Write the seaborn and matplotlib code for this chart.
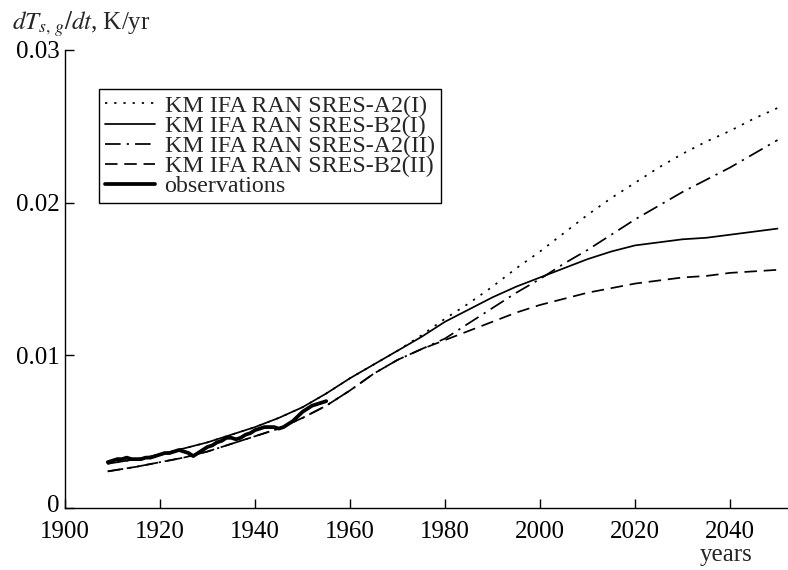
import matplotlib
matplotlib.use("Agg")
import matplotlib.pyplot as plt
import matplotlib.transforms as mtransforms
import seaborn as sns
import pandas as pd

# ---- data ----
model_years = [1909, 1915, 1920, 1925, 1930, 1935, 1940, 1945, 1950, 1955,
               1960, 1965, 1970, 1975, 1980, 1985, 1990, 1995, 2000, 2005,
               2010, 2015, 2020, 2025, 2030, 2035, 2040, 2045, 2050]

b2_I = [0.0029, 0.0032, 0.0035, 0.0039, 0.0043, 0.0048, 0.0053, 0.0059, 0.0066, 0.0075,
        0.0085, 0.0094, 0.0103, 0.0112, 0.0122, 0.0130, 0.0138, 0.0145, 0.0151, 0.0157,
        0.0163, 0.0168, 0.0172, 0.0174, 0.0176, 0.0177, 0.0179, 0.0181, 0.0183]

a2_I = [0.0029, 0.0032, 0.0035, 0.0039, 0.0043, 0.0048, 0.0053, 0.0059, 0.0066, 0.0075,
        0.0085, 0.0094, 0.0103, 0.0113, 0.0124, 0.0134, 0.0145, 0.0157, 0.0168, 0.0180,
        0.0192, 0.0203, 0.0213, 0.0223, 0.0232, 0.0240, 0.0247, 0.0255, 0.0262]

b2_II = [0.0024, 0.0027, 0.0030, 0.0033, 0.0037, 0.0042, 0.0047, 0.0052, 0.0059, 0.0067,
         0.0077, 0.0088, 0.0097, 0.0104, 0.0110, 0.0116, 0.0122, 0.0128, 0.0133, 0.0137,
         0.0141, 0.0144, 0.0147, 0.0149, 0.0151, 0.0152, 0.0154, 0.0155, 0.0156]

a2_II = [0.0024, 0.0027, 0.0030, 0.0033, 0.0037, 0.0042, 0.0047, 0.0052, 0.0059, 0.0067,
         0.0077, 0.0088, 0.0097, 0.0104, 0.0111, 0.0121, 0.0131, 0.0141, 0.0150, 0.0160,
         0.0169, 0.0179, 0.0189, 0.0198, 0.0207, 0.0215, 0.0223, 0.0232, 0.0241]

obs_years = list(range(1909, 1956))
obs_values = [0.0030, 0.0031, 0.0032, 0.0032, 0.0033, 0.0032, 0.0032, 0.0032, 0.0033, 0.0033,
              0.0034, 0.0035, 0.0036, 0.0036, 0.0037, 0.0038, 0.0037, 0.0036, 0.0034, 0.0036,
              0.0038, 0.0040, 0.0041, 0.0043, 0.0044, 0.0046, 0.0046, 0.0045, 0.0046, 0.0048,
              0.0049, 0.0051, 0.0052, 0.0053, 0.0053, 0.0053, 0.0052, 0.0053, 0.0055, 0.0057,
              0.0060, 0.0063, 0.0065, 0.0067, 0.0068, 0.0069, 0.0070]

series_labels = ["KM IFA RAN SRES-A2(I)", "KM IFA RAN SRES-B2(I)",
                 "KM IFA RAN SRES-A2(II)", "KM IFA RAN SRES-B2(II)", "observations"]

x_ticks = [1900, 1920, 1940, 1960, 1980, 2000, 2020, 2040]
x_tick_labels = ["1900", "1920", "1940", "1960", "1980", "2000", "2020", "2040"]
y_ticks = [0.0, 0.01, 0.02, 0.03]
y_tick_labels = ["0", "0.01", "0.02", "0.03"]

# ---- style ----
sns.set_style("ticks")
plt.rcParams["font.family"] = ["Liberation Serif", "DejaVu Serif"]
plt.rcParams["mathtext.fontset"] = "stix"

fig = plt.figure(figsize=(7.88, 5.70), dpi=100)
ax = fig.add_axes([65 / 788, 62 / 570, 722 / 788, 458 / 570])

models = pd.DataFrame({"year": model_years, "a2_I": a2_I, "b2_I": b2_I,
                       "a2_II": a2_II, "b2_II": b2_II})
obs = pd.DataFrame({"year": obs_years, "value": obs_values})

lw = 1.25
sns.lineplot(data=models, x="year", y="a2_I", ax=ax, color="black", lw=lw,
             dashes=(1.3, 4.0), label=series_labels[0])
sns.lineplot(data=models, x="year", y="b2_I", ax=ax, color="black", lw=lw,
             label=series_labels[1])
sns.lineplot(data=models, x="year", y="a2_II", ax=ax, color="black", lw=lw,
             dashes=(9, 3.5, 1.3, 3.5), label=series_labels[2])
sns.lineplot(data=models, x="year", y="b2_II", ax=ax, color="black", lw=lw,
             dashes=(7.2, 3.9), label=series_labels[3])
sns.lineplot(data=obs, x="year", y="value", ax=ax, color="black", lw=2.7,
             label=series_labels[4])

ax.set_xlim(1900, 2052)
ax.set_ylim(0, 0.03)
ax.set_xticks(x_ticks, labels=x_tick_labels)
ax.set_yticks(y_ticks, labels=y_tick_labels)
ax.tick_params(axis="both", direction="in", length=6.5, width=1.0,
               labelsize=18, color="black", labelcolor="black")
ax.tick_params(axis="x", pad=9)
ax.tick_params(axis="y", pad=4)
ax.set_xlabel("")
ax.set_ylabel("")
for side in ["top", "right"]:
    ax.spines[side].set_visible(False)
for side in ["left", "bottom"]:
    ax.spines[side].set_color("black")
    ax.spines[side].set_linewidth(1.0)

# nudge the "0" label up slightly so it clears the "1900" label
zero_lbl = ax.get_yticklabels()[0]
zero_lbl.set_transform(zero_lbl.get_transform() +
                       mtransforms.ScaledTranslation(0, 3 / 72, fig.dpi_scale_trans))

leg = ax.legend(loc="upper left", bbox_to_anchor=(34 / 722, 419 / 458),
                borderaxespad=0, fontsize=17.3, frameon=True, fancybox=False,
                edgecolor="black", framealpha=1, handlelength=2.1,
                handletextpad=0.38, labelspacing=-0.07, borderpad=0.25)
leg.get_frame().set_linewidth(1.0)

fig.text(12 / 788, 1 - 30 / 570, r"$dT_{s,\,g}/dt$, K/yr", fontsize=18,
         ha="left", va="baseline")
fig.text(726 / 788, 9 / 570, "years", fontsize=18, ha="center", va="baseline")

fig.savefig("out.png", dpi=100)
